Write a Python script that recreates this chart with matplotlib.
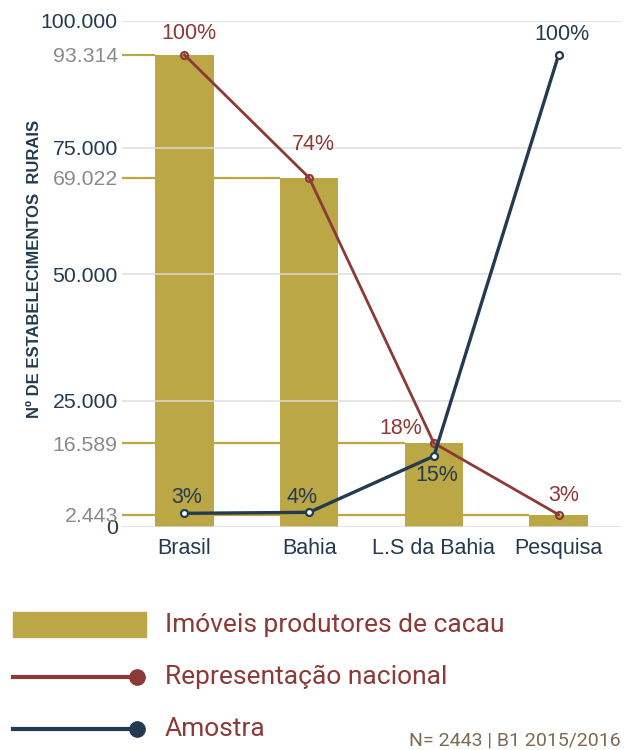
import matplotlib
matplotlib.use("Agg")
import matplotlib.pyplot as plt
from matplotlib.patches import Rectangle

plt.rcParams['font.family'] = ['Liberation Sans', 'DejaVu Sans']

# dados
categorias = ['Brasil', 'Bahia', 'L.S da Bahia', 'Pesquisa']
imoveis = [93314, 69022, 16589, 2443]
repr_nacional = [93314, 69022, 16589, 2443]
repr_rotulos = ['100%', '74%', '18%', '3%']
amostra = [2700, 2900, 14000, 93314]
amostra_rotulos = ['3%', '4%', '15%', '100%']
ticks_principais = [0, 25000, 50000, 75000, 100000]
ticks_principais_txt = ['0', '25.000', '50.000', '75.000', '100.000']
ticks_valores = [2443, 16589, 69022, 93314]
ticks_valores_txt = ['2.443', '16.589', '69.022', '93.314']

OLIVA = '#bba745'
VERMELHO = '#8b3a35'
AZUL = '#233a50'
CINZA = '#8a8a8a'
GRADE = '#dcdcdc'

fig = plt.figure(figsize=(6.29, 7.5), dpi=100)
ax = fig.add_axes([122/629, 1-527/750, (621-122)/629, (527-21)/750])

x = list(range(len(categorias)))
larg = 0.47
ax.bar(x, imoveis, width=larg, color=OLIVA, zorder=2)

# linhas de referencia na cor das barras
for xi, v in zip(x, imoveis):
    ax.hlines(v, -0.5, xi - larg/2, color=OLIVA, lw=1.6, zorder=1)

for t in ticks_principais:
    ax.axhline(t, color=GRADE, lw=1.3, zorder=3, alpha=0.8)

ax.plot(x, repr_nacional, color=VERMELHO, lw=2, marker='o', ms=5,
        mfc='none', mec=VERMELHO, mew=1.6, zorder=4)
ax.plot(x, amostra, color=AZUL, lw=2.4, marker='o', ms=5,
        mfc='white', mec=AZUL, mew=1.6, zorder=5)

off_r = [(5, 21), (4, 33), (-33, 15), (5, 19)]
for xi, v, t, o in zip(x, repr_nacional, repr_rotulos, off_r):
    ax.annotate(t, (xi, v), xytext=o, textcoords='offset pixels',
                ha='center', va='center', color=VERMELHO, fontsize=15.5)
off_a = [(2, 16), (-7, 15), (3, -19), (3, 20)]
for xi, v, t, o in zip(x, amostra, amostra_rotulos, off_a):
    ax.annotate(t, (xi, v), xytext=o, textcoords='offset pixels',
                ha='center', va='center', color=AZUL, fontsize=15.5)

ax.set_xlim(-0.5, 3.5)
ax.set_ylim(0, 100000)
ax.set_yticks(ticks_principais + ticks_valores)
ax.set_yticklabels(ticks_principais_txt + ticks_valores_txt, fontsize=15.3)
for lbl, t in zip(ax.get_yticklabels(), ticks_principais + ticks_valores):
    lbl.set_color(AZUL if t in ticks_principais else CINZA)
ax.set_xticks(x)
ax.set_xticklabels(categorias, fontsize=15.5, color=AZUL)
ax.tick_params(length=0)
ax.tick_params(axis='y', pad=3)
ax.tick_params(axis='x', pad=8)
for s in ax.spines.values():
    s.set_visible(False)

fig.text(35/629, 1-269/750, 'Nº DE ESTABELECIMENTOS  RURAIS', rotation=90,
         ha='center', va='center', fontsize=12, fontweight='bold', color=AZUL)

# legenda manual
lg = fig.add_axes([0, 0, 1, 150/750])
lg.set_xlim(0, 629)
lg.set_ylim(750, 600)
lg.axis('off')
lg.add_patch(Rectangle((13, 612), 133, 25, color=OLIVA))
lg.plot([13, 137], [677, 677], color=VERMELHO, lw=3)
lg.plot([137], [677], 'o', color=VERMELHO, ms=11)
lg.plot([13, 137], [729, 729], color=AZUL, lw=3)
lg.plot([137], [729], 'o', color=AZUL, ms=11)
for yy, t in zip([625, 677, 729], ['Imóveis produtores de cacau',
                                   'Representação nacional', 'Amostra']):
    lg.text(165, yy, t, fontsize=19, color=VERMELHO, va='center', ha='left',
            family=['Roboto', 'DejaVu Sans'])
lg.text(621, 741, 'N= 2443 | B1 2015/2016', fontsize=14, color='#7d6a55',
        ha='right', va='center', family=['Roboto', 'DejaVu Sans'])

fig.savefig('out.png', dpi=100)
